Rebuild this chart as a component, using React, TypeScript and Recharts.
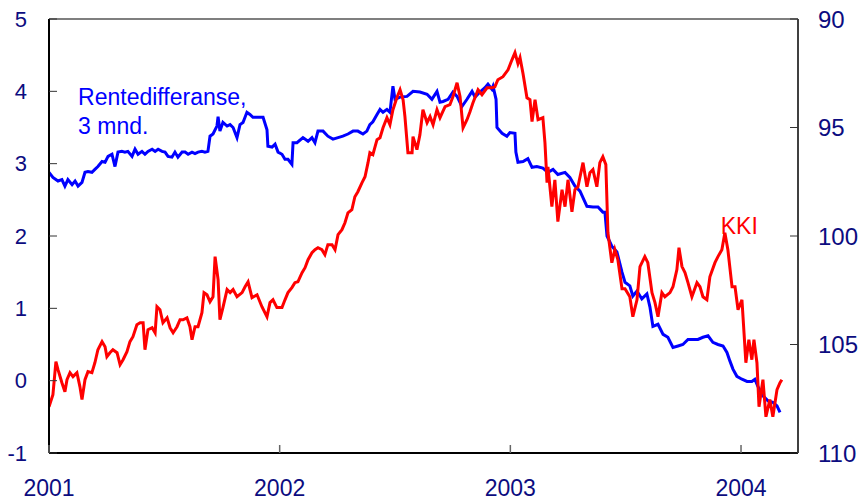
import React from "react";
import { LineChart, Line, XAxis, YAxis, ReferenceLine, ReferenceDot } from "recharts";

// Rentedifferanse, 3 mnd. (left axis, percentage points)
const blueDates = [
  2001.000, 2001.017, 2001.039, 2001.056, 2001.069, 2001.082, 2001.100, 2001.113, 2001.126, 2001.143,
  2001.156, 2001.169, 2001.186, 2001.199, 2001.212, 2001.230, 2001.243, 2001.256, 2001.273, 2001.286,
  2001.299, 2001.316, 2001.329, 2001.342, 2001.360, 2001.373, 2001.386, 2001.403, 2001.416, 2001.429,
  2001.447, 2001.460, 2001.473, 2001.490, 2001.503, 2001.516, 2001.533, 2001.546, 2001.559, 2001.577,
  2001.590, 2001.603, 2001.620, 2001.633, 2001.646, 2001.663, 2001.676, 2001.689, 2001.698, 2001.711,
  2001.728, 2001.733, 2001.741, 2001.754, 2001.772, 2001.785, 2001.798, 2001.815, 2001.828, 2001.841,
  2001.858, 2001.871, 2001.884, 2001.902, 2001.915, 2001.928, 2001.945, 2001.949, 2001.967, 2001.980,
  2001.993, 2002.010, 2002.023, 2002.036, 2002.053, 2002.058, 2002.075, 2002.101, 2002.123, 2002.140,
  2002.153, 2002.166, 2002.188, 2002.209, 2002.231, 2002.253, 2002.274, 2002.296, 2002.318, 2002.339,
  2002.361, 2002.378, 2002.391, 2002.404, 2002.422, 2002.435, 2002.448, 2002.465, 2002.478, 2002.491,
  2002.500, 2002.522, 2002.552, 2002.578, 2002.608, 2002.639, 2002.660, 2002.682, 2002.695, 2002.708,
  2002.730, 2002.751, 2002.769, 2002.790, 2002.812, 2002.834, 2002.847, 2002.868, 2002.890, 2002.903,
  2002.920, 2002.925, 2002.938, 2002.942, 2002.964, 2002.985, 2002.998, 2003.020, 2003.024, 2003.033,
  2003.055, 2003.076, 2003.094, 2003.115, 2003.141, 2003.163, 2003.185, 2003.206, 2003.237, 2003.258,
  2003.280, 2003.302, 2003.332, 2003.358, 2003.380, 2003.401, 2003.410, 2003.419, 2003.440, 2003.462,
  2003.484, 2003.497, 2003.518, 2003.531, 2003.549, 2003.570, 2003.592, 2003.605, 2003.618, 2003.640,
  2003.662, 2003.683, 2003.705, 2003.727, 2003.748, 2003.770, 2003.792, 2003.813, 2003.835, 2003.857,
  2003.878, 2003.900, 2003.922, 2003.939, 2003.952, 2003.965, 2003.982, 2004.004, 2004.026, 2004.047,
  2004.060, 2004.073, 2004.095, 2004.117, 2004.138, 2004.156, 2004.169,
];
const blueValues = [
  2.88, 2.81, 2.76, 2.78, 2.69, 2.78, 2.71, 2.76, 2.69, 2.74,
  2.88, 2.89, 2.88, 2.92, 2.96, 3.03, 3.02, 3.10, 3.13, 2.96,
  3.16, 3.17, 3.16, 3.17, 3.10, 3.20, 3.13, 3.17, 3.13, 3.17,
  3.20, 3.17, 3.20, 3.17, 3.16, 3.10, 3.09, 3.16, 3.09, 3.16,
  3.16, 3.13, 3.16, 3.14, 3.16, 3.17, 3.16, 3.17, 3.38, 3.41,
  3.52, 3.65, 3.45, 3.57, 3.52, 3.54, 3.50, 3.36, 3.54, 3.57,
  3.71, 3.68, 3.64, 3.64, 3.64, 3.64, 3.47, 3.24, 3.23, 3.27,
  3.16, 3.13, 3.06, 3.06, 2.99, 3.29, 3.29, 3.36, 3.31, 3.36,
  3.29, 3.45, 3.45, 3.38, 3.34, 3.36, 3.38, 3.41, 3.45, 3.45,
  3.41, 3.45, 3.54, 3.58, 3.68, 3.75, 3.71, 3.75, 3.71, 4.07,
  3.89, 3.92, 3.93, 4.00, 3.99, 3.96, 3.89, 4.00, 3.85, 3.86,
  3.89, 3.99, 3.93, 3.79, 3.89, 4.00, 3.92, 3.99, 4.05, 4.10,
  4.03, 4.07, 3.89, 3.50, 3.42, 3.38, 3.43, 3.42, 3.16, 3.02,
  3.03, 3.07, 2.95, 2.96, 2.94, 2.88, 2.92, 2.85, 2.88, 2.81,
  2.69, 2.62, 2.41, 2.40, 2.40, 2.33, 2.33, 2.00, 1.86, 1.78,
  1.50, 1.36, 1.31, 1.17, 1.24, 1.13, 1.20, 1.02, 0.75, 0.78,
  0.64, 0.60, 0.46, 0.48, 0.50, 0.57, 0.57, 0.57, 0.60, 0.62,
  0.53, 0.50, 0.48, 0.39, 0.27, 0.16, 0.06, 0.02, -0.01, -0.01,
  0.02, -0.08, -0.21, -0.28, -0.30, -0.35, -0.44,
];

// KKI (right axis, inverted index)
const kkiDates = [
  2001.000, 2001.017, 2001.030, 2001.039, 2001.056, 2001.069, 2001.078, 2001.091, 2001.104, 2001.121,
  2001.134, 2001.143, 2001.156, 2001.169, 2001.186, 2001.199, 2001.212, 2001.230, 2001.243, 2001.251,
  2001.264, 2001.277, 2001.295, 2001.308, 2001.321, 2001.338, 2001.351, 2001.364, 2001.381, 2001.395,
  2001.408, 2001.416, 2001.429, 2001.447, 2001.460, 2001.468, 2001.481, 2001.494, 2001.512, 2001.525,
  2001.538, 2001.555, 2001.568, 2001.581, 2001.598, 2001.611, 2001.620, 2001.633, 2001.646, 2001.663,
  2001.672, 2001.685, 2001.698, 2001.711, 2001.720, 2001.733, 2001.741, 2001.754, 2001.772, 2001.785,
  2001.798, 2001.815, 2001.837, 2001.850, 2001.863, 2001.880, 2001.902, 2001.923, 2001.945, 2001.958,
  2001.971, 2001.988, 2002.010, 2002.023, 2002.036, 2002.053, 2002.066, 2002.079, 2002.097, 2002.110,
  2002.123, 2002.140, 2002.153, 2002.166, 2002.183, 2002.196, 2002.209, 2002.227, 2002.240, 2002.253,
  2002.270, 2002.283, 2002.296, 2002.313, 2002.326, 2002.339, 2002.357, 2002.370, 2002.383, 2002.391,
  2002.404, 2002.422, 2002.435, 2002.448, 2002.465, 2002.478, 2002.491, 2002.508, 2002.522, 2002.535,
  2002.543, 2002.556, 2002.574, 2002.578, 2002.595, 2002.608, 2002.621, 2002.639, 2002.652, 2002.665,
  2002.682, 2002.695, 2002.717, 2002.738, 2002.751, 2002.769, 2002.782, 2002.795, 2002.812, 2002.825,
  2002.838, 2002.860, 2002.877, 2002.899, 2002.920, 2002.933, 2002.946, 2002.968, 2002.990, 2003.007,
  2003.020, 2003.033, 2003.042, 2003.055, 2003.072, 2003.085, 2003.094, 2003.107, 2003.120, 2003.141,
  2003.150, 2003.159, 2003.163, 2003.180, 2003.193, 2003.206, 2003.224, 2003.237, 2003.250, 2003.267,
  2003.280, 2003.293, 2003.315, 2003.332, 2003.345, 2003.358, 2003.375, 2003.388, 2003.401, 2003.414,
  2003.423, 2003.440, 2003.453, 2003.466, 2003.484, 2003.497, 2003.518, 2003.531, 2003.549, 2003.562,
  2003.583, 2003.596, 2003.614, 2003.627, 2003.640, 2003.657, 2003.670, 2003.692, 2003.705, 2003.722,
  2003.731, 2003.744, 2003.757, 2003.770, 2003.787, 2003.809, 2003.822, 2003.835, 2003.852, 2003.865,
  2003.887, 2003.900, 2003.917, 2003.930, 2003.943, 2003.961, 2003.974, 2003.987, 2004.004, 2004.013,
  2004.021, 2004.034, 2004.047, 2004.056, 2004.069, 2004.078, 2004.095, 2004.108, 2004.125, 2004.138,
  2004.156, 2004.169, 2004.177,
];
const kkiValues = [
  107.87, 107.31, 105.79, 106.16, 106.76, 107.18, 106.62, 106.30, 106.48, 106.30,
  106.94, 107.54, 106.62, 106.25, 106.30, 105.84, 105.24, 104.87, 105.10, 105.56,
  105.38, 105.24, 105.38, 105.93, 105.70, 105.33, 104.87, 104.64, 104.09, 104.00,
  104.00, 105.24, 104.32, 104.23, 104.46, 103.26, 103.40, 104.00, 103.77, 104.23,
  104.46, 104.18, 103.86, 103.86, 103.77, 104.18, 104.78, 104.18, 104.18, 103.53,
  102.61, 102.71, 103.03, 102.80, 100.95, 102.01, 103.86, 103.30, 102.47, 102.61,
  102.47, 102.80, 102.61, 102.34, 102.11, 102.84, 102.71, 103.26, 103.72, 103.07,
  102.94, 103.30, 103.30, 102.94, 102.61, 102.38, 102.15, 102.11, 101.69, 101.46,
  101.09, 100.77, 100.63, 100.54, 100.63, 100.86, 100.40, 100.40, 100.63, 99.94,
  99.71, 99.39, 98.93, 98.79, 98.19, 97.96, 97.54, 97.27, 96.62, 96.16,
  96.25, 95.56, 95.47, 95.01, 94.55, 94.87, 94.18, 93.63, 93.26, 93.72,
  94.50, 96.16, 96.16, 95.42, 96.02, 95.33, 94.18, 94.78, 94.50, 94.87,
  94.18, 94.55, 94.04, 93.95, 93.58, 92.94, 93.58, 95.01, 94.64, 94.27,
  93.86, 93.26, 93.49, 93.17, 93.17, 93.12, 92.80, 92.66, 92.34, 91.88,
  91.55, 92.06, 91.78, 92.52, 93.63, 93.72, 94.73, 93.72, 94.64, 94.55,
  95.70, 97.54, 96.81, 98.65, 97.41, 99.34, 97.87, 98.65, 97.41, 98.88,
  97.87, 97.73, 96.62, 97.73, 97.08, 96.94, 97.73, 96.62, 96.35, 96.71,
  99.85, 101.23, 100.63, 101.09, 102.43, 102.43, 102.80, 103.72, 102.94, 101.41,
  100.95, 101.23, 102.61, 103.07, 103.72, 102.61, 102.80, 102.61, 102.34, 101.55,
  100.54, 101.41, 101.69, 102.15, 102.80, 102.15, 102.34, 102.80, 102.94, 101.88,
  101.23, 100.95, 100.63, 99.85, 100.63, 102.34, 102.34, 103.40, 102.94, 104.46,
  105.84, 104.78, 105.70, 104.78, 105.84, 107.87, 106.62, 108.33, 107.54, 108.33,
  107.08, 106.76, 106.62,
];

const yearTicks = [2001, 2002, 2003, 2004];
const leftTicks = [-1, 0, 1, 2, 3, 4, 5];
const rightTicks = [90, 95, 100, 105, 110];

const blueData = blueDates.map((t, i) => ({ t, v: blueValues[i] }));
const kkiData = kkiDates.map((t, i) => ({ t, k: kkiValues[i] }));

const FONT = "'Liberation Sans', Arial, Helvetica, sans-serif";
const NAVY = "#0c0c80";

const LEFT_MARGIN = 22;
const RIGHT_MARGIN = 20;
const X_MARGIN = 27;
const TICK_LEN = 8;

const LeftTick = (props: any) => {
  const { x, y, payload } = props;
  return (
    <g>
      <line x1={x + LEFT_MARGIN} x2={x + LEFT_MARGIN + TICK_LEN} y1={y} y2={y} stroke="#333" strokeWidth={1} />
      <text x={x} y={y} dy="0.355em" textAnchor="end" fill={NAVY} fontSize={22} fontFamily={FONT}>
        {payload.value}
      </text>
    </g>
  );
};

const RightTick = (props: any) => {
  const { x, y, payload } = props;
  return (
    <g>
      <line x1={x - RIGHT_MARGIN - TICK_LEN} x2={x - RIGHT_MARGIN} y1={y} y2={y} stroke="#333" strokeWidth={1} />
      <text x={x} y={y} dy="0.355em" textAnchor="start" fill={NAVY} fontSize={24} fontFamily={FONT}>
        {payload.value}
      </text>
    </g>
  );
};

const BottomTick = (props: any) => {
  const { x, y, payload } = props;
  return (
    <g>
      <line x1={x} x2={x} y1={y - X_MARGIN} y2={y - X_MARGIN - TICK_LEN} stroke="#666" strokeWidth={1.5} />
      <text x={x} y={y} dy="0.71em" textAnchor="middle" fill={NAVY} fontSize={23} fontFamily={FONT}>
        {payload.value}
      </text>
    </g>
  );
};

export default function App() {
  return (
    <div style={{ position: "absolute", left: 0, top: 0, width: 862, height: 503, background: "#fff" }}>
      <LineChart width={862} height={503} margin={{ top: 19, right: 0, bottom: 0, left: 0 }}>
        <XAxis
          type="number"
          dataKey="t"
          domain={[2001, 2004.247]}
          ticks={yearTicks}
          allowDataOverflow
          height={50}
          tickSize={0}
          tickMargin={X_MARGIN}
          tickLine={false}
          axisLine={{ stroke: "#000", strokeWidth: 2 }}
          tick={<BottomTick />}
          interval={0}
        />
        <YAxis
          yAxisId="left"
          orientation="left"
          domain={[-1, 5]}
          ticks={leftTicks}
          width={49}
          tickSize={0}
          tickMargin={LEFT_MARGIN}
          tickLine={false}
          axisLine={{ stroke: "#000", strokeWidth: 2 }}
          tick={<LeftTick />}
          interval={0}
          allowDataOverflow
        />
        <YAxis
          yAxisId="right"
          orientation="right"
          domain={[90, 110]}
          reversed
          ticks={rightTicks}
          width={64}
          tickSize={0}
          tickMargin={RIGHT_MARGIN}
          tickLine={false}
          axisLine={{ stroke: "#404040", strokeWidth: 2 }}
          tick={<RightTick />}
          interval={0}
          allowDataOverflow
        />
        <ReferenceLine yAxisId="left" y={5} stroke="#000" strokeWidth={1.2} />
        <Line
          data={blueData}
          dataKey="v"
          yAxisId="left"
          type="linear"
          stroke="#0000ff"
          strokeWidth={3}
          dot={false}
          isAnimationActive={false}
        />
        <Line
          data={kkiData}
          dataKey="k"
          yAxisId="right"
          type="linear"
          stroke="#ff0000"
          strokeWidth={3}
          dot={false}
          isAnimationActive={false}
        />
        <ReferenceDot
          yAxisId="left"
          x={2001.126}
          y={3.918}
          r={0}
          fill="none"
          stroke="none"
          label={{ value: "Rentedifferanse,", position: "right", offset: 0, fill: "#0000ff", fontSize: 23, fontFamily: FONT }}
        />
        <ReferenceDot
          yAxisId="left"
          x={2001.126}
          y={3.518}
          r={0}
          fill="none"
          stroke="none"
          label={{ value: "3 mnd.", position: "right", offset: 0, fill: "#0000ff", fontSize: 23, fontFamily: FONT }}
        />
        <ReferenceDot
          yAxisId="right"
          x={2003.912}
          y={99.52}
          r={0}
          fill="none"
          stroke="none"
          label={{ value: "KKI", position: "right", offset: 0, fill: "#ff0000", fontSize: 23, fontFamily: FONT }}
        />
      </LineChart>
    </div>
  );
}
